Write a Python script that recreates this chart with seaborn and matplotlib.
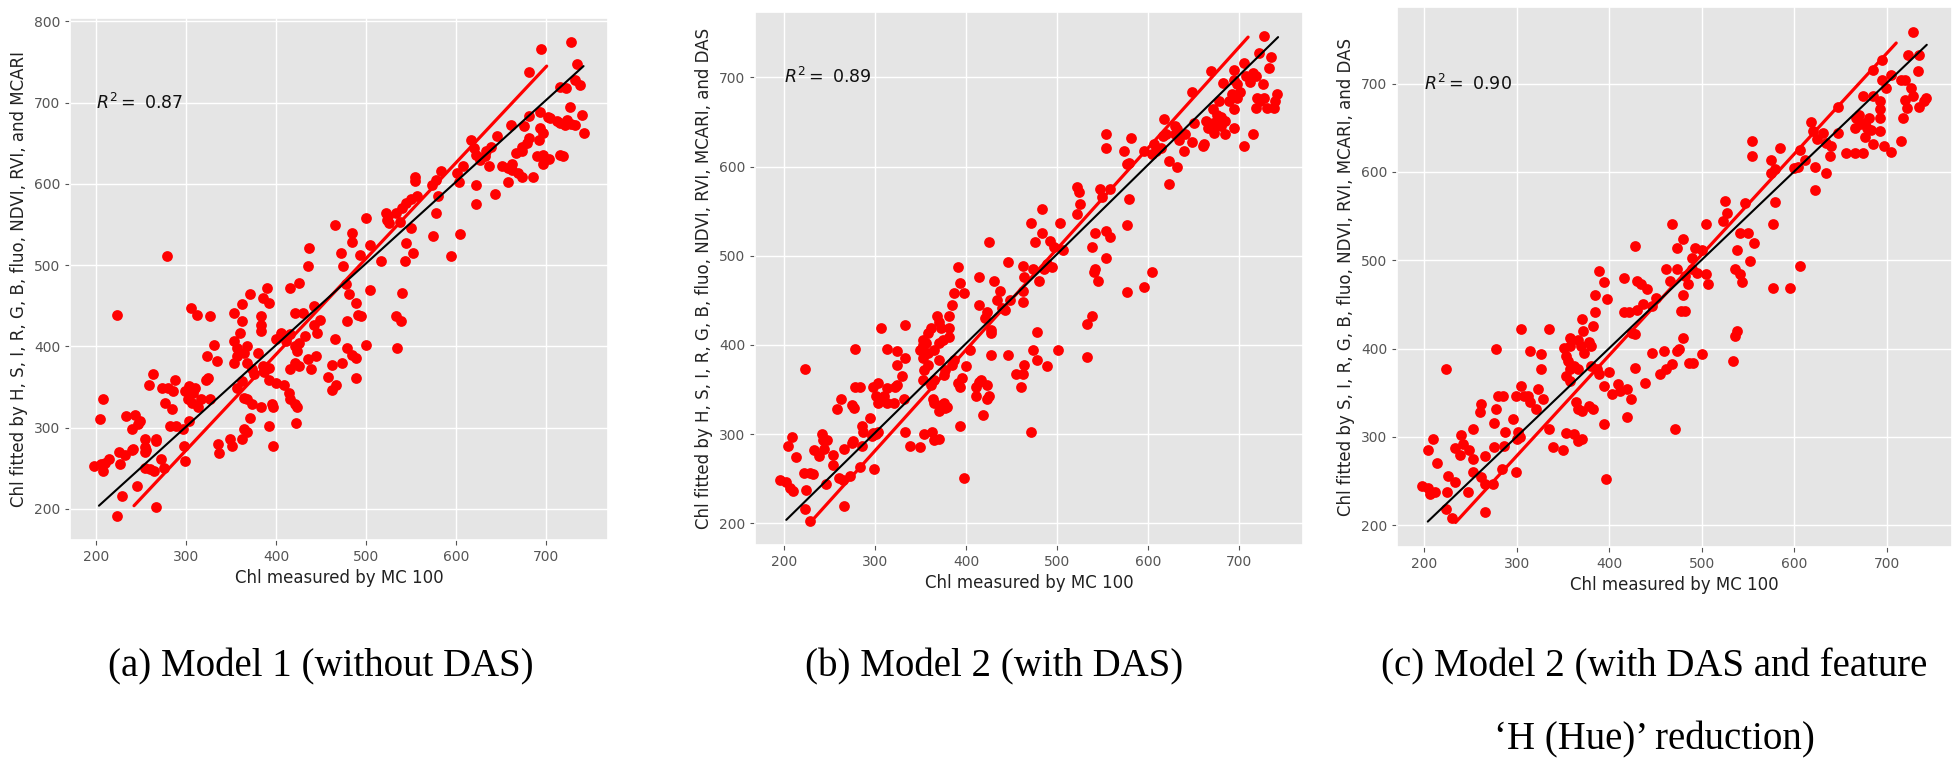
import matplotlib
matplotlib.use("Agg")
import matplotlib.pyplot as plt
import seaborn as sns
import pandas as pd

# ---- data (Chl measured vs fitted) ----
x_model1 = [728, 695, 681, 735, 733, 738, 716, 723, 727, 694, 681, 740, 702,
            742, 705, 712, 716, 721, 728, 733, 724, 676, 661, 694, 697, 692, 681, 679, 674, 667, 673, 697, 690,
            697, 704, 716, 719, 686, 674, 669, 662, 658, 651, 662, 658, 646, 639, 634, 632, 637, 627, 622, 617,
            620, 643, 622, 622, 608, 604, 601, 583, 578, 573, 580, 578, 575, 605, 595,
            554, 554, 557, 550, 545, 540, 533, 524, 526, 538, 550, 545, 543, 552, 522, 523, 500, 505, 517, 493,
            484, 484, 472, 475, 465, 437, 436, 426, 416, 430, 442, 449, 445, 442, 421, 478, 481, 489, 491, 495,
            505, 500, 479, 465, 479, 484, 489, 489, 473, 462, 458, 467, 462, 444, 439, 436, 423, 421, 421, 426,
            432, 416, 425, 414, 416, 421, 423, 422, 411, 406, 400, 416, 534, 533, 539, 540,
            390, 385, 392, 371, 362, 353, 362, 383, 383, 383, 360, 353, 357, 364, 368, 353, 357, 368, 380, 373,
            385, 392, 375, 387, 392, 400, 409, 362, 357, 364, 368, 373, 383, 395, 397, 392, 397, 371, 364, 368,
            362, 349, 351, 335, 337,
            305, 312, 326, 331, 334, 323, 324, 327, 322, 317, 313, 307, 303, 299, 302, 308, 310, 303, 297, 288,
            285, 280, 273, 277, 284, 282, 289, 263, 259, 279, 223, 243, 249, 246, 240, 233, 254, 255, 240, 266,
            298, 208, 204,
            198, 205, 207, 210, 214, 226, 225, 232, 241, 254, 254, 266, 254, 260, 264, 272, 275, 245, 229, 223,
            266, 299]
y_model1 = [775, 766, 738, 747, 728, 722, 719, 718, 695, 689, 683, 685, 682,
            663, 681, 678, 675, 673, 674, 673, 679, 671, 673, 669, 663, 654, 657, 650, 640, 638, 646, 636, 634,
            624, 631, 635, 634, 609, 609, 613, 617, 620, 622, 624, 602, 659, 646, 640, 634, 622, 630, 636, 654,
            644, 587, 599, 575, 622, 602, 614, 616, 605, 599, 585, 564, 536, 538, 511,
            609, 603, 585, 581, 577, 570, 564, 560, 552, 553, 546, 527, 505, 515, 564, 556, 558, 525, 505, 513,
            540, 529, 515, 499, 550, 521, 499, 478, 472, 441, 450, 433, 417, 427, 441, 477, 464, 454, 439, 437,
            470, 402, 431, 409, 398, 390, 386, 361, 380, 377, 363, 353, 347, 388, 372, 384, 394, 380, 400, 404,
            413, 372, 376, 343, 335, 329, 325, 306, 407, 417, 409, 415, 398, 437, 431, 466,
            472, 460, 454, 464, 452, 441, 431, 437, 427, 419, 417, 407, 398, 392, 400, 380, 388, 380, 392, 372,
            376, 374, 366, 368, 359, 355, 353, 357, 349, 337, 335, 329, 325, 329, 325, 302, 277, 312, 298, 295,
            286, 286, 277, 280, 269,
            447, 439, 437, 402, 382, 388, 361, 335, 359, 335, 325, 331, 351, 345, 335, 343, 349, 308, 298, 359,
            345, 349, 349, 331, 323, 302, 302, 366, 353, 511, 439, 316, 308, 304, 298, 314, 286, 273, 273, 286,
            277, 335, 311,
            253, 255, 247, 257, 261, 255, 270, 266, 274, 276, 270, 284, 251, 249, 247, 261, 251, 228, 216, 191,
            202, 259]

x_model2 = [728, 722, 735, 733, 705, 694, 682, 669, 694, 698, 708, 715, 719, 712, 726, 701, 698, 694, 720,
            723, 719, 731, 738, 742, 740, 728, 692, 689, 678, 671, 676, 680, 685, 680, 676, 671, 664, 666, 673,
            685, 694, 705, 715, 660, 650, 648, 662, 648, 641, 639, 634, 630, 632, 630, 618, 620, 616, 614, 609,
            604, 607, 623, 632, 623, 595, 581, 579, 577, 574, 554, 554, 558, 547, 549, 524, 522, 525, 522, 542,
            554, 558, 554, 538, 542, 540, 545, 577, 579, 604, 595, 577, 538, 533, 533,
            483, 471, 483, 476, 492, 496, 503, 506, 494, 489, 485, 480, 473, 462, 464, 462, 462, 446, 430, 437,
            434, 448, 443, 439, 425, 414, 423, 414, 421, 427, 427, 427, 446, 455, 460, 462, 464, 473, 478, 478,
            489, 501, 471,
            404, 400, 395, 391, 393, 393, 397, 414, 416, 411, 411, 418, 423, 425, 423,
            391, 393, 397, 386, 384, 381, 381, 381, 372, 370, 368, 361, 358, 352, 352, 356, 349, 358, 365, 370,
            374, 352, 358, 354, 370, 384, 386, 377, 375, 365, 352, 361, 363, 365, 375, 377, 379, 370, 372,
            333, 313, 306, 278, 324, 324, 333, 329, 324, 322, 331, 333, 338, 313, 310, 303, 306, 320, 313, 297,
            301, 303, 294, 297, 301, 299, 283, 278, 274, 276, 262, 258, 274, 285, 285, 283, 223,
            195, 202, 206, 209, 204, 208, 213, 222, 224, 228, 231, 223, 228, 232, 238, 241, 242, 244, 247, 253,
            253, 246, 260, 264, 265, 265, 272, 275, 286, 296, 303, 349, 353, 362, 364, 370]
y_model2 = [746, 727, 723, 710, 716, 708, 694, 707, 697, 692, 701, 705, 701, 695, 692, 684, 677, 664, 677,
            673, 666, 666, 666, 681, 673, 677, 681, 673, 673, 664, 658, 655, 651, 645, 647, 649, 651, 643, 638,
            636, 643, 623, 636, 623, 649, 684, 625, 627, 636, 617, 630, 636, 642, 645, 653, 636, 634, 621, 617,
            614, 625, 606, 599, 580, 617, 632, 604, 603, 617, 636, 621, 575, 575, 566, 571, 577, 558, 547, 526,
            528, 521, 497, 510, 485, 482, 472, 534, 564, 482, 465, 459, 433, 424, 387,
            552, 537, 526, 515, 517, 510, 537, 506, 487, 491, 485, 472, 485, 489, 476, 461, 448, 493, 472, 461,
            450, 450, 439, 441, 515, 476, 437, 445, 430, 417, 413, 389, 389, 368, 353, 368, 378, 394, 415, 383,
            376, 394, 303,
            394, 376, 363, 357, 353, 309, 251, 359, 361, 353, 343, 322, 340, 343, 355,
            487, 469, 458, 458, 445, 433, 419, 409, 419, 426, 433, 419, 413, 406, 400, 402, 394, 391, 394, 402,
            406, 385, 378, 372, 383, 378, 383, 372, 366, 361, 361, 355, 339, 335, 335, 329, 331, 326, 333,
            422, 396, 419, 396, 393, 378, 385, 365, 355, 353, 339, 303, 287, 352, 343, 357, 339, 335, 335, 353,
            343, 335, 318, 301, 300, 261, 353, 353, 333, 329, 339, 328, 290, 309, 287, 263, 373,
            249, 246, 240, 236, 287, 297, 274, 257, 238, 256, 255, 216, 203, 282, 276, 300, 294, 283, 294, 277,
            266, 244, 251, 249, 219, 283, 253, 292, 303, 298, 302, 286, 300, 302, 294, 295]

x_model3 = [728, 723, 735, 733, 695, 704, 695, 699, 715, 719, 726, 728, 742, 740, 735, 719, 722, 717, 685,
            674, 685, 692, 692, 681, 692, 676, 671, 678, 683, 670, 667, 665, 692, 676, 685, 697, 704, 715, 656,
            665, 674, 647, 647, 640, 638, 634, 631, 624, 618, 620, 622, 634, 622, 611, 606, 600, 604, 579, 575,
            575, 584, 554, 554, 579, 577, 525, 527, 523, 547, 550, 541, 556, 538, 536, 541, 543, 552, 577, 595,
            606, 538, 536, 534,
            468, 480, 473, 489, 504, 493, 500, 489, 495, 504, 507, 482, 485, 473, 461, 466, 480, 477, 482, 480,
            475, 486, 491, 500, 473, 459, 455, 461, 468, 471, 446,
            428, 416, 430, 434, 441, 437, 450, 446, 430, 421, 416, 425, 428, 428, 439, 410, 412, 419, 423, 419,
            400, 403, 394, 397,
            389, 394, 398, 385, 385, 382, 380, 371, 372, 366, 369, 378, 373, 358, 358, 351, 353, 355, 362, 358,
            366, 380, 387, 389, 394, 358, 353, 364, 366, 378, 371, 382, 362, 366, 371,
            335, 326, 326, 323, 328, 335, 339, 305, 314, 305, 308, 312, 314, 321, 299, 296, 301, 278, 285, 280,
            278, 276, 287, 276, 262, 260, 253, 224,
            198, 204, 206, 212, 204, 210, 214, 226, 233, 225, 224, 230, 233, 240, 242, 239, 249, 253, 253, 247,
            266, 262, 266, 274, 266, 284, 286, 299, 300, 304, 350, 353]
y_model3 = [759, 732, 733, 714, 727, 710, 704, 695, 704, 704, 695, 686, 684, 680, 674, 682, 672, 661, 716,
            686, 686, 680, 671, 661, 661, 655, 654, 650, 648, 665, 661, 650, 646, 640, 632, 629, 623, 635, 622,
            622, 622, 674, 644, 629, 618, 633, 644, 637, 657, 646, 606, 599, 580, 614, 625, 605, 606, 603, 599,
            614, 627, 635, 618, 566, 541, 567, 554, 544, 565, 531, 531, 520, 512, 490, 484, 475, 499, 469, 469,
            493, 420, 414, 386,
            541, 524, 514, 503, 541, 514, 512, 490, 486, 484, 473, 482, 473, 490, 490, 476, 461, 442, 442, 412,
            399, 384, 384, 394, 397, 397, 371, 377, 382, 309, 395,
            516, 480, 476, 473, 467, 450, 457, 448, 444, 441, 441, 418, 416, 378, 361, 360, 352, 354, 343, 322,
            373, 348, 314, 252,
            488, 475, 456, 461, 441, 426, 403, 433, 420, 410, 403, 407, 395, 412, 403, 401, 392, 386, 380, 377,
            377, 380, 377, 371, 358, 363, 369, 339, 331, 335, 329, 331, 303, 295, 297,
            422, 394, 377, 354, 343, 309, 288, 422, 397, 358, 346, 346, 339, 331, 346, 320, 305, 399, 346, 346,
            331, 316, 305, 288, 337, 328, 309, 377,
            244, 242, 235, 237, 285, 298, 270, 256, 249, 237, 218, 208, 287, 302, 292, 279, 285, 275, 260, 237,
            278, 254, 247, 247, 215, 264, 290, 260, 298, 300, 285, 304]

# 1:1 line (black) and fitted line (red) end points
one_to_one = {"Model 1": ([203, 742], [204, 745]),
              "Model 2": ([202, 743], [204, 745]),
              "Model 3": ([204, 743], [204, 744])}
fit_line = {"Model 1": ([242, 701], [204, 745]),
            "Model 2": ([231, 710], [204, 745]),
            "Model 3": ([234, 710], [203, 746])}

r2_values = ["0.87", "0.89", "0.90"]
y_labels = ["Chl fitted by H, S, I, R, G, B, fluo, NDVI, RVI, and MCARI",
            "Chl fitted by H, S, I, R, G, B, fluo, NDVI, RVI, MCARI, and DAS",
            "Chl fitted by S, I, R, G, B, fluo, NDVI, RVI, MCARI, and DAS"]
x_label = "Chl measured by MC 100"
captions = ["(a) Model 1 (without DAS)",
            "(b) Model 2 (with DAS)",
            "(c) Model 2 (with DAS and feature\n\u2018H (Hue)\u2019 reduction)"]

panels = [("Model 1", x_model1, y_model1),
          ("Model 2", x_model2, y_model2),
          ("Model 3", x_model3, y_model3)]

# ---- style: ggplot-like grey panels ----
sns.set_theme(style="darkgrid", rc={
    "axes.facecolor": "#E5E5E5",
    "grid.color": "white",
    "grid.linewidth": 1.0,
    "xtick.bottom": True,
    "ytick.left": True,
    "xtick.major.size": 3.5,
    "ytick.major.size": 3.5,
    "xtick.color": "#555555",
    "ytick.color": "#555555",
    "xtick.labelsize": 10,
    "ytick.labelsize": 10,
    "axes.labelsize": 12,
    "axes.labelcolor": "#222222",
})
plt.rcParams["font.family"] = ["DejaVu Sans"]

W, H = 1958, 766
fig = plt.figure(figsize=(W / 100, H / 100), dpi=100)

# axes boxes in pixels: left, right, top, bottom
boxes = [(70, 608, 18, 540), (755, 1303, 12, 545), (1397, 1952, 7, 547)]
caption_x = [321, 994, 1654]

for i, (name, xs, ys) in enumerate(panels):
    l, r, t, b = boxes[i]
    ax = fig.add_axes([l / W, 1 - b / H, (r - l) / W, (b - t) / H])
    df = pd.DataFrame({"measured": xs, "fitted": ys})
    sns.scatterplot(data=df, x="measured", y="fitted", ax=ax, color="#ff0000",
                    s=60, linewidth=0, alpha=1.0, zorder=3)
    fx, fy = fit_line[name]
    ax.plot(fx, fy, color="#ff0000", lw=2.3, zorder=4)
    ox, oy = one_to_one[name]
    ax.plot(ox, oy, color="black", lw=1.5, zorder=5)
    ax.text(200, 700, r"$R^2 = $ " + r2_values[i], fontsize=12.5, va="center",
            ha="left", color="#111111")
    ax.set_xticks([200, 300, 400, 500, 600, 700])
    ax.set_xlabel(x_label)
    ax.set_ylabel(y_labels[i])
    ax.tick_params(colors="#555555", length=3.5, width=0.8)
    fig.text(caption_x[i] / W, 1 - 648 / H, captions[i], ha="center", va="top",
             fontsize=28, family="Liberation Serif", color="black",
             linespacing=2.3)

fig.savefig("out.png", dpi=100)
